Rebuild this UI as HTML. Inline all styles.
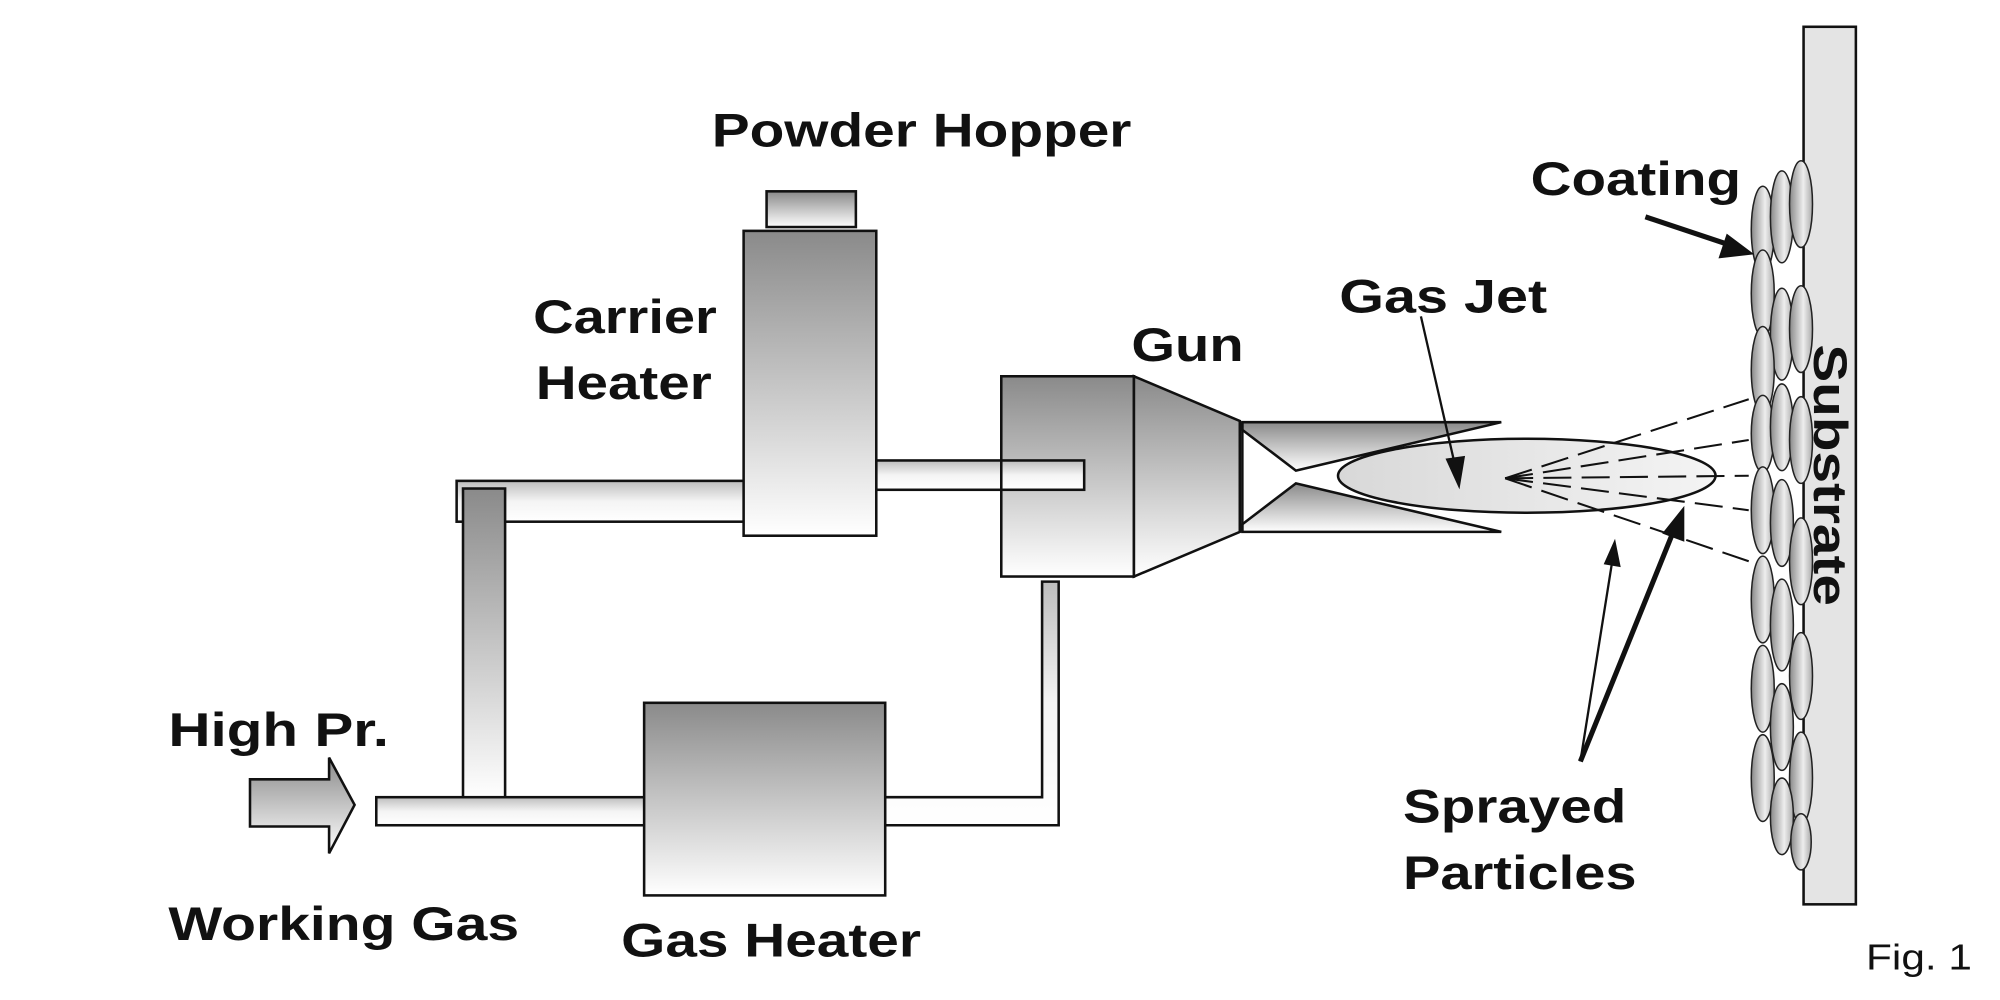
<!DOCTYPE html>
<html><head><style>html,body{margin:0;padding:0;background:#fff}svg{display:block}</style></head>
<body>
<svg width="2000" height="1000" viewBox="0 0 1568 784" xmlns="http://www.w3.org/2000/svg" font-family="Liberation Sans, Arial, sans-serif" font-weight="bold">
<defs>
<linearGradient id="gv" x1="0" y1="0" x2="0" y2="1"><stop offset="0" stop-color="#8a8a8a"/><stop offset="1" stop-color="#ffffff"/></linearGradient>
<linearGradient id="gp" x1="0" y1="0" x2="0" y2="1"><stop offset="0" stop-color="#bdbdbd"/><stop offset="0.5" stop-color="#f4f4f4"/><stop offset="1" stop-color="#ffffff"/></linearGradient>
<linearGradient id="gh" x1="0" y1="0" x2="1" y2="0"><stop offset="0" stop-color="#8a8a8a"/><stop offset="1" stop-color="#f8f8f8"/></linearGradient>
<linearGradient id="ge" x1="0" y1="0" x2="1" y2="0"><stop offset="0" stop-color="#d8d8d8"/><stop offset="1" stop-color="#f4f4f4"/></linearGradient>
<linearGradient id="go" x1="0" y1="0" x2="1" y2="0"><stop offset="0" stop-color="#888"/><stop offset="0.6" stop-color="#eee"/><stop offset="1" stop-color="#aaa"/></linearGradient>
</defs>
<g stroke="#111" stroke-width="2">
<!-- pipes -->
<rect x="358" y="377" width="226" height="32" fill="url(#gp)"/>
<rect x="363" y="383" width="33" height="243" fill="url(#gv)"/>
<rect x="295" y="625" width="212" height="22" fill="url(#gp)"/>
<polyline points="694,625 817,625 817,456 830,456 830,647 694,647" fill="url(#gp)"/>
<rect x="687" y="361" width="163" height="23" fill="url(#gp)"/>
<!-- hopper -->
<rect x="601" y="150" width="70" height="28" fill="url(#gv)"/>
<rect x="583" y="181" width="104" height="239" fill="url(#gv)"/>
<!-- gas heater -->
<rect x="505" y="551" width="189" height="151" fill="url(#gv)"/>
<!-- arrow -->
<polygon points="196,611 258,611 258,594 278,631 258,669 258,648 196,648" fill="url(#gv)"/>
<!-- gun -->
<rect x="785" y="295" width="104" height="157" fill="url(#gv)"/>
<rect x="785" y="361" width="65" height="23" fill="url(#gp)"/>
<polygon points="889,295 972,330 972,417 889,452" fill="url(#gv)"/>
<polygon points="974,331 1177,331 1016,369 974,337" fill="url(#gv)"/>
<polygon points="974,417 1177,417 1016,379 974,411" fill="url(#gv)"/>
<line x1="974" y1="331" x2="974" y2="417"/>
<!-- substrate -->
<rect x="1414" y="21" width="41" height="688" fill="#e4e4e4"/>
</g>
<!-- gas jet -->
<ellipse cx="1197" cy="373" rx="148" ry="29" fill="url(#ge)" stroke="#111" stroke-width="2"/>
<g stroke="#111" stroke-width="1.6" stroke-dasharray="22,8" fill="none">
<line x1="1180" y1="375" x2="1371" y2="313"/>
<line x1="1180" y1="375" x2="1371" y2="345"/>
<line x1="1180" y1="375" x2="1371" y2="373"/>
<line x1="1180" y1="375" x2="1371" y2="400"/>
<line x1="1180" y1="375" x2="1371" y2="440"/>
</g>
<!-- coating ovals -->
<g stroke="#222" stroke-width="1.2" fill="url(#go)">
<ellipse cx="1382" cy="180" rx="9" ry="34"/><ellipse cx="1397" cy="170" rx="9" ry="36"/><ellipse cx="1412" cy="160" rx="9" ry="34"/>
<ellipse cx="1382" cy="230" rx="9" ry="34"/><ellipse cx="1397" cy="262" rx="9" ry="36"/><ellipse cx="1412" cy="258" rx="9" ry="34"/>
<ellipse cx="1382" cy="290" rx="9" ry="34"/><ellipse cx="1382" cy="340" rx="9" ry="30"/><ellipse cx="1397" cy="335" rx="9" ry="34"/><ellipse cx="1412" cy="345" rx="9" ry="34"/>
<ellipse cx="1382" cy="400" rx="9" ry="34"/><ellipse cx="1397" cy="410" rx="9" ry="34"/><ellipse cx="1412" cy="440" rx="9" ry="34"/>
<ellipse cx="1382" cy="470" rx="9" ry="34"/><ellipse cx="1397" cy="490" rx="9" ry="36"/><ellipse cx="1382" cy="540" rx="9" ry="34"/>
<ellipse cx="1412" cy="530" rx="9" ry="34"/><ellipse cx="1397" cy="570" rx="9" ry="34"/><ellipse cx="1382" cy="610" rx="9" ry="34"/>
<ellipse cx="1412" cy="610" rx="9" ry="36"/><ellipse cx="1397" cy="640" rx="9" ry="30"/><ellipse cx="1412" cy="660" rx="8" ry="22"/>
</g>
<!-- arrows -->
<g stroke="#111" fill="#111">
<line x1="1114" y1="248" x2="1141" y2="366" stroke-width="1.8"/>
<polygon points="1144,382 1134,360 1148,358"/>
<line x1="1239" y1="597" x2="1264" y2="440" stroke-width="1.8"/>
<polygon points="1266,424 1270,444 1258,442"/>
<line x1="1239" y1="597" x2="1313" y2="414" stroke-width="4"/>
<polygon points="1320,398 1320,424 1304,418"/>
<line x1="1290" y1="170" x2="1356" y2="192" stroke-width="4"/>
<polygon points="1374,199 1348,202 1354,184"/>
</g>
<!-- labels -->
<g fill="#111" font-size="37">
<text x="558" y="115" textLength="329" lengthAdjust="spacingAndGlyphs">Powder Hopper</text>
<text x="418" y="261" textLength="144" lengthAdjust="spacingAndGlyphs">Carrier</text>
<text x="420" y="313" textLength="138" lengthAdjust="spacingAndGlyphs">Heater</text>
<text x="887" y="283" textLength="88" lengthAdjust="spacingAndGlyphs">Gun</text>
<text x="1050" y="245" textLength="163" lengthAdjust="spacingAndGlyphs">Gas Jet</text>
<text x="1200" y="153" textLength="165" lengthAdjust="spacingAndGlyphs">Coating</text>
<text x="132" y="585" textLength="173" lengthAdjust="spacingAndGlyphs">High Pr.</text>
<text x="132" y="737" textLength="275" lengthAdjust="spacingAndGlyphs">Working Gas</text>
<text x="487" y="750" textLength="235" lengthAdjust="spacingAndGlyphs">Gas Heater</text>
<text x="1100" y="645" textLength="175" lengthAdjust="spacingAndGlyphs">Sprayed</text>
<text x="1100" y="697" textLength="183" lengthAdjust="spacingAndGlyphs">Particles</text>
<text transform="translate(1422,270) rotate(90)" textLength="205" lengthAdjust="spacingAndGlyphs">Substrate</text>
</g>
<text x="1463" y="760" font-size="28" font-weight="normal" fill="#111" textLength="83" lengthAdjust="spacingAndGlyphs">Fig. 1</text>
</svg>
</body></html>
